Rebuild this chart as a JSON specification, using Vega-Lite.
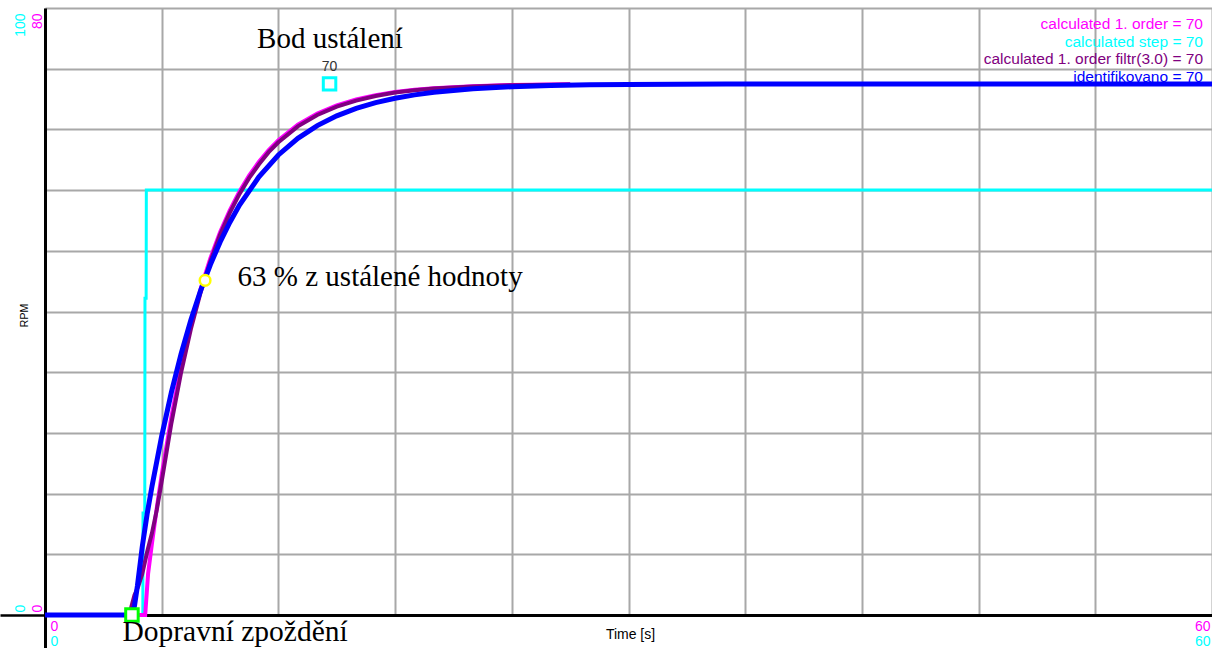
{
  "$schema": "https://vega.github.io/schema/vega-lite/v6.json",
  "width": 1167,
  "height": 607,
  "autosize": {"type": "none"},
  "padding": {"left": 45, "top": 8, "right": 0, "bottom": 33},
  "background": "white",
  "config": {
    "view": {"stroke": null},
    "font": "Liberation Sans",
    "axis": {"labelFont": "Liberation Sans", "titleFont": "Liberation Sans"}
  },
  "datasets": {
    "step": [
      {"t": 0, "rpm": 0}, {"t": 5.03, "rpm": 0}, {"t": 5.04, "rpm": 16.8}, {"t": 5.13, "rpm": 16.8},
      {"t": 5.14, "rpm": 52.2}, {"t": 5.2, "rpm": 52.2}, {"t": 5.21, "rpm": 70}, {"t": 60, "rpm": 70}
    ],
    "order1": [
      {"t": 0, "rpm": 0}, {"t": 5.15, "rpm": 0}, {"t": 5.3, "rpm": 5.43}, {"t": 5.5, "rpm": 9.46},
      {"t": 5.75, "rpm": 14.15}, {"t": 6, "rpm": 18.48}, {"t": 6.5, "rpm": 26.15}, {"t": 7, "rpm": 32.68},
      {"t": 7.5, "rpm": 38.24}, {"t": 8, "rpm": 42.97}, {"t": 8.5, "rpm": 47.0}, {"t": 9, "rpm": 50.43},
      {"t": 9.5, "rpm": 53.34}, {"t": 10, "rpm": 55.82}, {"t": 10.5, "rpm": 57.93}, {"t": 11, "rpm": 59.73},
      {"t": 11.5, "rpm": 61.26}, {"t": 12, "rpm": 62.56}, {"t": 13, "rpm": 64.62}, {"t": 14, "rpm": 66.1},
      {"t": 15, "rpm": 67.17}, {"t": 16, "rpm": 67.95}, {"t": 17, "rpm": 68.52}, {"t": 18, "rpm": 68.93},
      {"t": 19, "rpm": 69.22}, {"t": 20, "rpm": 69.44}, {"t": 22, "rpm": 69.7}, {"t": 24, "rpm": 69.85},
      {"t": 26, "rpm": 69.92}, {"t": 27, "rpm": 69.94}
    ],
    "filtered": [
      {"t": 0, "rpm": 0}, {"t": 4.35, "rpm": 0}, {"t": 4.45, "rpm": 1.2}, {"t": 4.6, "rpm": 2.6},
      {"t": 4.8, "rpm": 3.8}, {"t": 5, "rpm": 5.4}, {"t": 5.25, "rpm": 8.3}, {"t": 5.5, "rpm": 10.8},
      {"t": 5.75, "rpm": 13.9}, {"t": 6, "rpm": 17.6}, {"t": 6.5, "rpm": 25.3}, {"t": 7, "rpm": 32.0},
      {"t": 7.5, "rpm": 37.7}, {"t": 8, "rpm": 42.5}, {"t": 8.5, "rpm": 46.6}, {"t": 9, "rpm": 50.1},
      {"t": 9.5, "rpm": 53.0}, {"t": 10, "rpm": 55.5}, {"t": 10.5, "rpm": 57.6}, {"t": 11, "rpm": 59.4},
      {"t": 11.5, "rpm": 61.0}, {"t": 12, "rpm": 62.3}, {"t": 13, "rpm": 64.4}, {"t": 14, "rpm": 65.9},
      {"t": 15, "rpm": 67.0}, {"t": 16, "rpm": 67.8}, {"t": 17, "rpm": 68.4}, {"t": 18, "rpm": 68.85},
      {"t": 19, "rpm": 69.15}, {"t": 20, "rpm": 69.4}, {"t": 22, "rpm": 69.65}, {"t": 24, "rpm": 69.82},
      {"t": 26, "rpm": 69.9}, {"t": 27, "rpm": 69.93}
    ],
    "identified": [
      {"t": 0, "rpm": 0}, {"t": 4.45, "rpm": 0}, {"t": 4.6, "rpm": 1.2}, {"t": 4.75, "rpm": 3.8},
      {"t": 4.9, "rpm": 6.9}, {"t": 5, "rpm": 9.0}, {"t": 5.25, "rpm": 13.3}, {"t": 5.5, "rpm": 16.95},
      {"t": 6, "rpm": 23.58}, {"t": 6.5, "rpm": 29.37}, {"t": 7, "rpm": 34.44}, {"t": 7.5, "rpm": 38.88},
      {"t": 8, "rpm": 42.77}, {"t": 8.5, "rpm": 46.16}, {"t": 9, "rpm": 49.14}, {"t": 9.5, "rpm": 51.74},
      {"t": 10, "rpm": 54.02}, {"t": 11, "rpm": 57.76}, {"t": 12, "rpm": 60.63}, {"t": 13, "rpm": 62.82},
      {"t": 14, "rpm": 64.5}, {"t": 15, "rpm": 65.79}, {"t": 16, "rpm": 66.77}, {"t": 17, "rpm": 67.53},
      {"t": 18, "rpm": 68.11}, {"t": 19, "rpm": 68.55}, {"t": 20, "rpm": 68.89}, {"t": 22, "rpm": 69.35},
      {"t": 24, "rpm": 69.62}, {"t": 26, "rpm": 69.78}, {"t": 28, "rpm": 69.87}, {"t": 30, "rpm": 69.92},
      {"t": 35, "rpm": 69.98}, {"t": 40, "rpm": 70}, {"t": 60, "rpm": 70}
    ],
    "points": [
      {"name": "delay", "t": 4.47, "rpm": 0, "note": "Dopravní zpoždění"},
      {"name": "tau", "t": 8.23, "rpm": 44.1, "note": "63 % z ustálené hodnoty"},
      {"name": "steady", "t": 14.63, "rpm": 70, "note": "Bod ustálení"}
    ],
    "legend": [
      {"series": "calculated 1. order", "label": "calculated 1. order = 70"},
      {"series": "calculated step", "label": "calculated step = 70"},
      {"series": "calculated 1. order filtr(3.0)", "label": "calculated 1. order filtr(3.0) = 70"},
      {"series": "identifikovano", "label": "identifikovano = 70"}
    ]
  },
  "layer": [
    {
      "data": {"name": "step"},
      "mark": {"type": "line", "color": "#00FFFF", "strokeWidth": 3},
      "encoding": {
        "x": {
          "field": "t", "type": "quantitative",
          "scale": {"domain": [0, 60], "nice": false, "zero": false},
          "axis": {
            "orient": "bottom", "values": [0, 60], "grid": false, "domain": false, "ticks": false,
            "labelAngle": 0,
            "labelAlign": {"condition": {"test": "datum.value === 0", "value": "left"}, "value": "right"},
            "labelOffset": {"condition": {"test": "datum.value === 0", "value": 5}, "value": -2},
            "labelBaseline": "top", "labelPadding": 19, "labelFlush": false, "labelOverlap": false,
            "labelColor": "#00FFFF", "labelFontSize": 14, "title": null
          }
        },
        "y": {
          "field": "rpm", "type": "quantitative",
          "scale": {"domain": [0, 100], "nice": false, "zero": false},
          "axis": {
            "orient": "left", "values": [0, 100], "grid": false, "domain": false, "ticks": false,
            "labelAngle": 270,
            "labelAlign": {"condition": {"test": "datum.value === 0", "value": "left"}, "value": "right"},
            "labelOffset": {"condition": {"test": "datum.value === 0", "value": -3}, "value": 5},
            "labelBaseline": "middle", "labelPadding": 24.5, "labelFlush": false, "labelOverlap": false,
            "labelColor": "#00FFFF", "labelFontSize": 14, "title": null
          }
        }
      }
    },
    {
      "encoding": {
        "x": {
          "field": "t", "type": "quantitative",
          "scale": {"domain": [0, 60], "nice": false, "zero": false},
          "axis": {
            "orient": "bottom", "values": [0, 6, 12, 18, 24, 30, 36, 42, 48, 54, 60],
            "grid": true, "gridColor": "#a8a8a8", "gridWidth": 2,
            "domain": true, "domainColor": "#000000", "domainWidth": 3,
            "ticks": true, "tickSize": 33, "tickWidth": 3,
            "tickColor": {"condition": {"test": "datum.value === 0", "value": "#000000"}, "value": "transparent"},
            "labelExpr": "datum.value === 0 || datum.value === 60 ? datum.label : ''",
            "labelAngle": 0,
            "labelAlign": {"condition": {"test": "datum.value === 0", "value": "left"}, "value": "right"},
            "labelOffset": {"condition": {"test": "datum.value === 0", "value": 5}, "value": -2},
            "labelBaseline": "top", "labelPadding": -29, "labelFlush": false, "labelOverlap": false,
            "labelColor": "#FF00FF", "labelFontSize": 14,
            "title": "Time [s]", "titleFontSize": 14, "titleFontWeight": "normal", "titleColor": "#000000",
            "titleX": 585, "titleY": 19, "titleAlign": "center", "titleBaseline": "middle"
          }
        },
        "y": {
          "field": "rpm", "type": "quantitative",
          "scale": {"domain": [0, 80], "nice": false, "zero": false},
          "axis": {
            "orient": "left", "values": [0, 8, 16, 24, 32, 40, 48, 56, 64, 72, 80],
            "grid": true, "gridColor": "#a8a8a8", "gridWidth": 2,
            "domain": true, "domainColor": "#000000", "domainWidth": 3,
            "ticks": true, "tickSize": 45, "tickWidth": 2.5,
            "tickColor": {"condition": {"test": "datum.value === 0", "value": "#000000"}, "value": "transparent"},
            "labelExpr": "datum.value === 0 || datum.value === 80 ? datum.label : ''",
            "labelAngle": 270,
            "labelAlign": {"condition": {"test": "datum.value === 0", "value": "left"}, "value": "right"},
            "labelOffset": {"condition": {"test": "datum.value === 0", "value": -3}, "value": 5},
            "labelBaseline": "middle", "labelPadding": -37.5, "labelFlush": false, "labelOverlap": false,
            "labelColor": "#FF00FF", "labelFontSize": 14,
            "title": "RPM", "titleFontSize": 10.5, "titleFontWeight": "normal", "titleColor": "#000000",
            "titleAngle": 270, "titleX": -21, "titleY": 307, "titleAlign": "center", "titleBaseline": "middle"
          }
        }
      },
      "layer": [
        {"data": {"name": "order1"}, "mark": {"type": "line", "color": "#FF00FF", "strokeWidth": 4}},
        {"data": {"name": "filtered"}, "mark": {"type": "line", "color": "#800080", "strokeWidth": 4}},
        {"data": {"name": "identified"}, "mark": {"type": "line", "color": "#0000FF", "strokeWidth": 5}},
        {
          "data": {"name": "points"},
          "transform": [{"filter": "datum.name === 'delay'"}],
          "layer": [
            {"mark": {"type": "point", "shape": "square", "filled": true, "fill": "white", "stroke": "#00FF00", "strokeWidth": 3, "size": 156, "opacity": 1}},
            {"mark": {"type": "text", "font": "Liberation Serif", "fontSize": 29.5, "align": "left", "baseline": "alphabetic", "dx": -9.5, "dy": 26, "color": "#000000"},
             "encoding": {"text": {"field": "note"}}}
          ]
        },
        {
          "data": {"name": "points"},
          "transform": [{"filter": "datum.name === 'tau'"}],
          "layer": [
            {"mark": {"type": "point", "shape": "circle", "filled": true, "fill": "white", "stroke": "#FFFF00", "strokeWidth": 2.5, "size": 113, "opacity": 1}},
            {"mark": {"type": "text", "font": "Liberation Serif", "fontSize": 29, "align": "left", "baseline": "alphabetic", "dx": 32.5, "dy": 6, "color": "#000000"},
             "encoding": {"text": {"field": "note"}}}
          ]
        },
        {
          "data": {"name": "points"},
          "transform": [{"filter": "datum.name === 'steady'"}],
          "layer": [
            {"mark": {"type": "point", "shape": "square", "filled": true, "fill": "white", "stroke": "#00FFFF", "strokeWidth": 3, "size": 156, "opacity": 1}},
            {"mark": {"type": "text", "font": "Liberation Sans", "fontSize": 14, "align": "center", "baseline": "alphabetic", "dy": -13, "color": "#333333"},
             "encoding": {"text": {"field": "rpm", "type": "quantitative", "format": "d"}}},
            {"mark": {"type": "text", "font": "Liberation Serif", "fontSize": 29, "align": "left", "baseline": "alphabetic", "dx": -72.5, "dy": -36, "color": "#000000"},
             "encoding": {"text": {"field": "note"}}}
          ]
        }
      ]
    },
    {
      "data": {"name": "legend"},
      "mark": {"type": "text", "font": "Liberation Sans", "fontSize": 15.5, "align": "right", "baseline": "middle", "dx": -9},
      "encoding": {
        "x": {"datum": 60, "type": "quantitative", "axis": null},
        "y": {
          "field": "series", "type": "nominal",
          "scale": {"type": "point", "domain": ["calculated 1. order", "calculated step", "calculated 1. order filtr(3.0)", "identifikovano"], "range": [16, 69], "padding": 0},
          "axis": null
        },
        "color": {
          "field": "series", "type": "nominal",
          "scale": {"domain": ["calculated 1. order", "calculated step", "calculated 1. order filtr(3.0)", "identifikovano"], "range": ["#FF00FF", "#00FFFF", "#800080", "#0000FF"]},
          "legend": null
        },
        "text": {"field": "label"}
      }
    }
  ],
  "resolve": {
    "scale": {"y": "independent"},
    "axis": {"x": "independent", "y": "independent"}
  }
}
